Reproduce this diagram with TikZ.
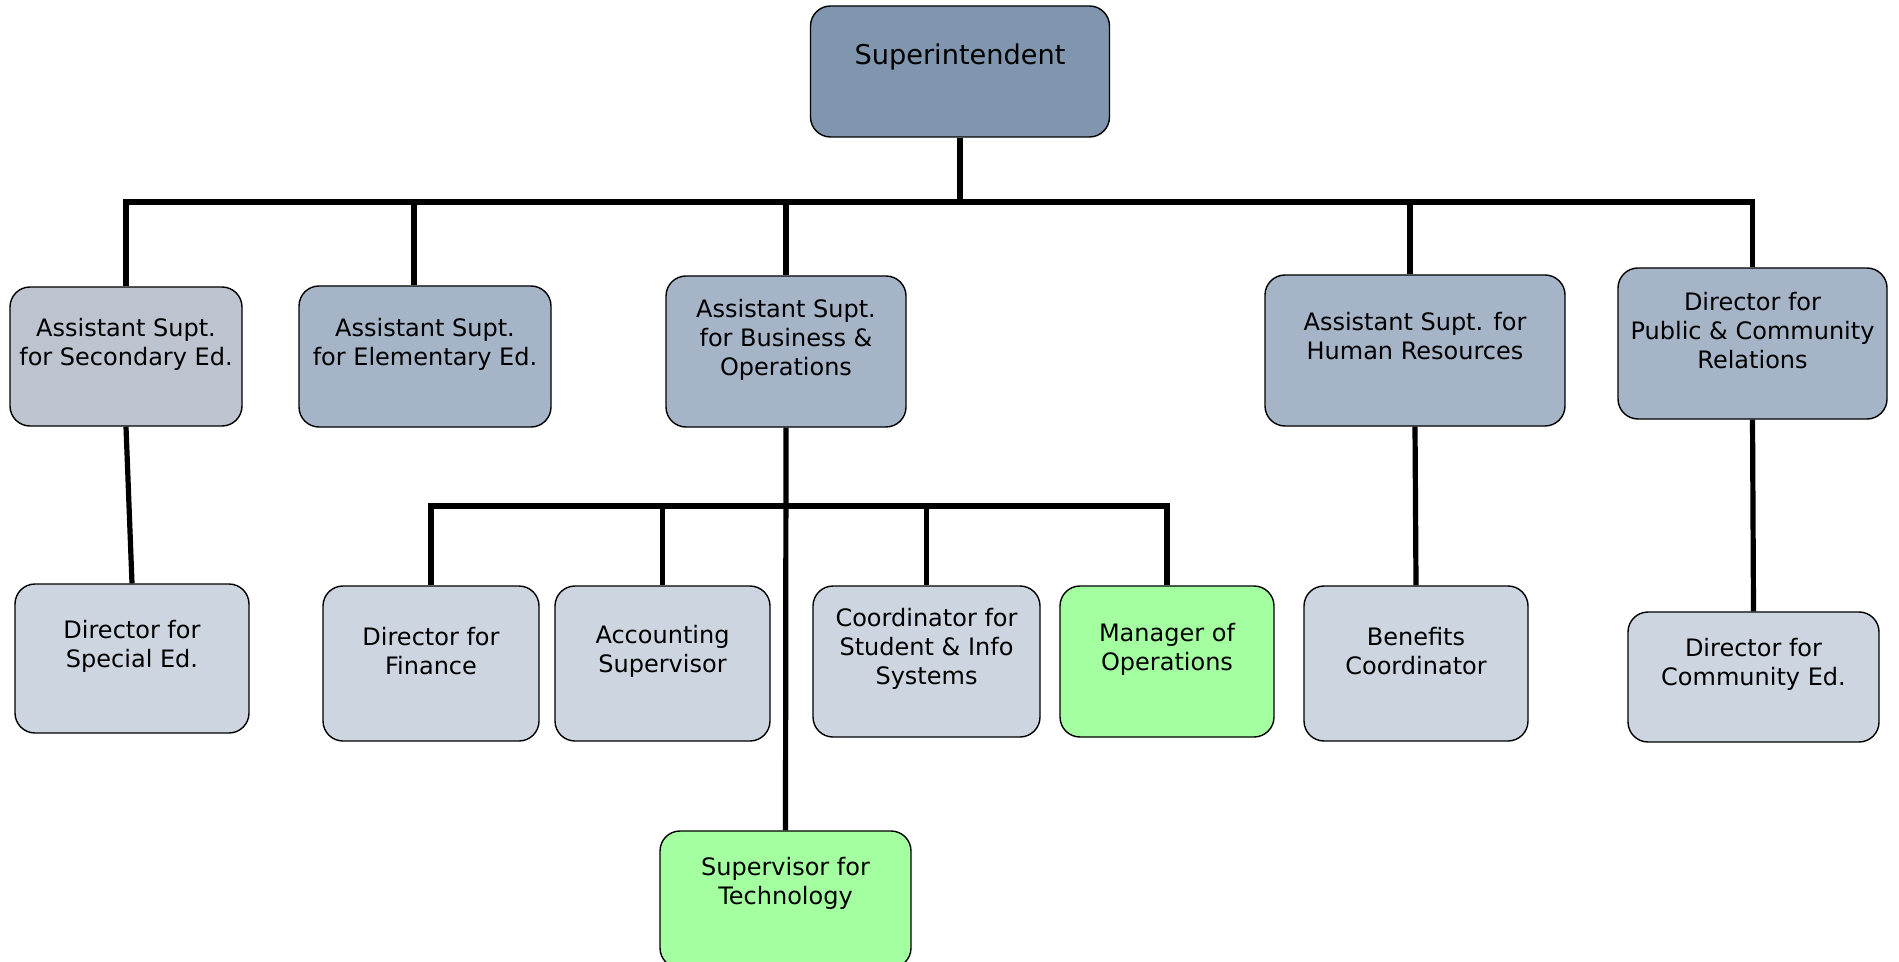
\documentclass[tikz,border=0pt]{standalone}
\usepackage{fontspec}
\setmainfont{DejaVu Sans}
\definecolor{topcol}{HTML}{7F96AE}
\definecolor{upcol}{HTML}{A6B4C7}
\definecolor{seccol}{HTML}{BDC4D0}
\definecolor{lowcol}{HTML}{CDD6E0}
\definecolor{greencol}{HTML}{A3FF9F}
\tikzset{
  post/.style={draw=black, line width=0.7pt, rounded corners=10pt, inner sep=0pt},
  caption/.style={align=center, inner sep=0pt, font=\fontsize{12}{14.5}\selectfont},
  link/.style={line width=2.6pt},
}
\begin{document}
\begin{tikzpicture}[x=0.5pt, y=-0.5pt]
\useasboundingbox (0,0) rectangle (1899,962);
\node[post, fill=topcol, minimum width=149.5pt, minimum height=65.5pt, label={[caption, font=\fontsize{13.6}{16}\selectfont, yshift=7pt]center:Superintendent}] (sup) at (960,71.5) {};
\node[post, fill=seccol, minimum width=116pt, minimum height=69.5pt, label={[caption, yshift=6.3pt]center:Assistant Supt.\\for Secondary Ed.}] (secondary) at (126,356.5) {};
\node[post, fill=upcol, minimum width=126pt, minimum height=70.5pt, label={[caption, yshift=6.3pt]center:Assistant Supt.\\for Elementary Ed.}] (elementary) at (425,356.5) {};
\node[post, fill=upcol, minimum width=120pt, minimum height=75.5pt, label={[caption, yshift=6pt]center:Assistant Supt.\\for Business \&\\Operations}] (business) at (786,351.5) {};
\node[post, fill=upcol, minimum width=150pt, minimum height=75.5pt, label={[caption, yshift=7pt]center:Assistant Supt. for\\Human Resources}] (humanres) at (1415,350.5) {};
\node[post, fill=upcol, minimum width=134.5pt, minimum height=75.5pt, label={[caption, yshift=6.5pt]center:Director for\\Public \& Community\\Relations}] (public) at (1752.5,343.5) {};
\node[post, fill=lowcol, minimum width=117pt, minimum height=74.5pt, label={[caption, yshift=6.3pt]center:Director for\\Special Ed.}] (special) at (132,658.5) {};
\node[post, fill=lowcol, minimum width=108pt, minimum height=77.5pt, label={[caption, yshift=6.3pt]center:Director for\\Finance}] (finance) at (431,663.5) {};
\node[post, fill=lowcol, minimum width=107.5pt, minimum height=77.5pt, label={[caption, yshift=6.3pt]center:Accounting\\Supervisor}] (accounting) at (662.5,663.5) {};
\node[post, fill=lowcol, minimum width=113.5pt, minimum height=75.5pt, label={[caption, yshift=6.5pt]center:Coordinator for\\Student \& Info\\Systems}] (coordinator) at (926.5,661.5) {};
\node[post, fill=greencol, minimum width=107pt, minimum height=75.5pt, label={[caption, yshift=6pt]center:Manager of\\Operations}] (manager) at (1167,661.5) {};
\node[post, fill=lowcol, minimum width=112pt, minimum height=77.5pt, label={[caption, yshift=6.3pt]center:Benefits\\Coordinator}] (benefits) at (1416,663.5) {};
\node[post, fill=lowcol, minimum width=125.5pt, minimum height=65pt, label={[caption, yshift=6.3pt]center:Director for\\Community Ed.}] (community) at (1753.5,677) {};
\node[post, fill=greencol, minimum width=125.5pt, minimum height=68.5pt, label={[caption, yshift=8pt]center:Supervisor for\\Technology}] (technology) at (785.5,899.5) {};
\coordinate (topbus) at (960,202); % junction under the Superintendent
\coordinate (midbus) at (786,506); % junction under Business & Operations
\draw[link] (sup.south) -- (topbus);
\draw[link] (topbus) -| (secondary.north);
\draw[link] (topbus) -| ([xshift=-5.5pt]elementary.north);
\draw[link] (topbus) -| (business.north);
\draw[link] (topbus) -| ([xshift=-2.5pt]humanres.north);
\draw[link] (topbus) -| (public.north);
\draw[link] (secondary.south) -- (special.north);
\draw[link] (humanres.south) -- (benefits.north);
\draw[link] (public.south) -- (community.north);
\draw[link] (business.south) -- (technology.north);
\draw[link] (midbus) -| (finance.north);
\draw[link] (midbus) -| (accounting.north);
\draw[link] (midbus) -| (coordinator.north);
\draw[link] (midbus) -| (manager.north);
\end{tikzpicture}
\end{document}
